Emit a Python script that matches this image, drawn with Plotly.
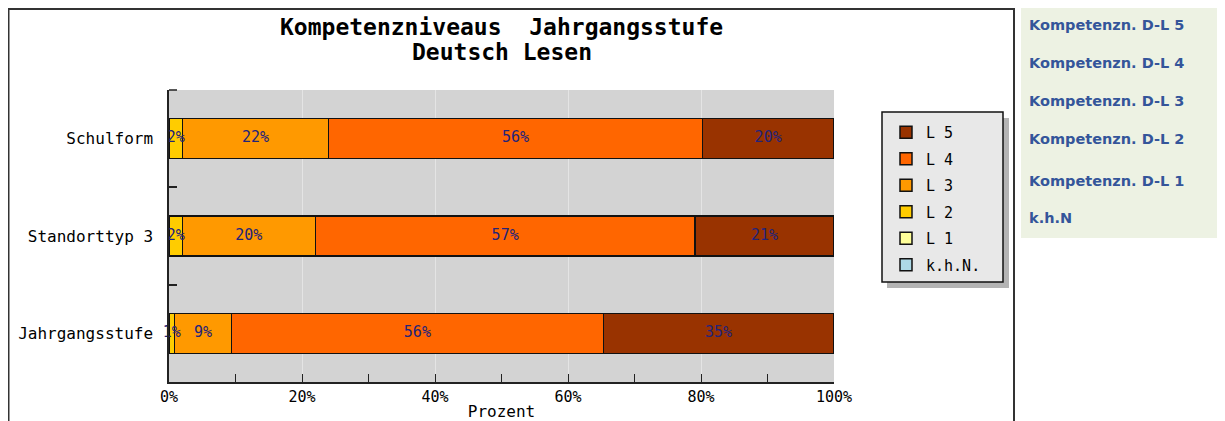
import plotly.graph_objects as go

# ---- data ----
categories = ["Jahrgangsstufe", "Standorttyp 3", "Schulform"]  # bottom -> top
series_names = ["k.h.N.", "L 1", "L 2", "L 3", "L 4", "L 5"]
khn = [0.0, 0.0, 0.0]
l1 = [0.0, 0.0, 0.0]
l2 = [0.8, 2.0, 2.0]
l3 = [8.6, 20.0, 22.0]
l4 = [55.9, 57.1, 56.2]
l5 = [34.7, 20.9, 19.8]
series_values = [khn, l1, l2, l3, l4, l5]
colors = ["#add8e6", "#ffff99", "#ffcc00", "#ff9900", "#ff6600", "#993300"]
x_ticks = [0, 20, 40, 60, 80, 100]
x_ticklabels = ["0%", "20%", "40%", "60%", "80%", "100%"]
title_lines = ["Kompetenzniveaus\u00a0\u00a0Jahrgangsstufe", "Deutsch Lesen"]
side_links = ["Kompetenzn. D-L 5", "Kompetenzn. D-L 4", "Kompetenzn. D-L 3",
              "Kompetenzn. D-L 2", "Kompetenzn. D-L 1", "k.h.N"]

# page has an 8px body margin; figure size compensates
OFF = 8
W, H = 1225 - OFF, 421 - OFF
# plot area in page pixels
PL, PR, PT, PB = 169, 834, 90, 382
L, R, T, B = PL - OFF, PR - OFF, PT - OFF, PB - OFF


def px(x):
    return (x - PL) / (PR - PL)


def py(y):
    return (PB - y) / (PB - PT)


MONO = "DejaVu Sans Mono"
fig = go.Figure()

n = len(series_names)
for i, (name, vals, col) in enumerate(zip(series_names, series_values, colors)):
    fig.add_trace(go.Bar(
        y=categories, x=vals, name=name, orientation="h",
        marker=dict(color=col, line=dict(color="#111111", width=1.5)),
        width=0.41, legendgroup=name, legendrank=(n - i) * 10,
        hoverinfo="skip",
    ))

# labels centred in segments
lx, ly, lt = [], [], []
for ci, cat in enumerate(categories):
    cum = 0.0
    for vals in series_values:
        v = vals[ci]
        if v > 0:
            lx.append(cum + v / 2)
            ly.append(cat)
            lt.append(f"{round(v):d}%")
        cum += v
fig.add_trace(go.Scatter(
    x=lx, y=ly, text=lt, mode="text", showlegend=False, hoverinfo="skip",
    cliponaxis=False,
    textfont=dict(family=MONO, size=15, color="#23237a"),
))

shapes = [
    # outer border of chart image
    dict(type="rect", xref="paper", yref="paper", x0=px(8.5), x1=px(1014),
         y0=py(460), y1=py(9), line=dict(color="#333333", width=2),
         fillcolor="rgba(0,0,0,0)", layer="below"),
    # side panel
    dict(type="rect", xref="paper", yref="paper", x0=px(1021), x1=px(1240),
         y0=py(238), y1=py(-5), line=dict(width=0), fillcolor="#edf2e3",
         layer="below"),
    # legend shadow
    dict(type="rect", xref="paper", yref="paper", x0=px(887), x1=px(1009),
         y0=py(288), y1=py(118), line=dict(width=0), fillcolor="#b4b4b4",
         layer="above"),
    # legend box
    dict(type="rect", xref="paper", yref="paper", x0=px(882), x1=px(1003),
         y0=py(282), y1=py(112), line=dict(color="#111111", width=1.5),
         fillcolor="#e8e8e8", layer="above"),
    # top boundary tick of the category axis
    dict(type="line", xref="paper", yref="paper", x0=0, x1=px(177),
         y0=1, y1=1, line=dict(color="#222222", width=1.5), layer="above"),
]

annotations = []
for t, yy in zip(title_lines, [27, 52]):
    annotations.append(dict(
        text=f"<b>{t}</b>", xref="paper", yref="paper", x=0.5, y=py(yy),
        xanchor="center", yanchor="middle", showarrow=False,
        font=dict(family=MONO, size=23, color="black"),
    ))
link_y = [25, 63, 101, 139, 181, 218]
for t, yy in zip(side_links, link_y):
    annotations.append(dict(
        text=f"<b>{t}</b>", xref="paper", yref="paper", x=px(1027), y=py(yy),
        xanchor="left", yanchor="middle", showarrow=False,
        font=dict(family="DejaVu Sans", size=14.5, color="#34559a"),
    ))

fig.update_layout(
    width=W, height=H,
    margin=dict(l=L, r=W - R, t=T, b=H - B, pad=0, autoexpand=False),
    paper_bgcolor="white", plot_bgcolor="#d3d3d3",
    barmode="stack", bargap=0.59,
    xaxis=dict(
        range=[0, 100], tickvals=x_ticks, ticktext=x_ticklabels,
        showgrid=True, gridcolor="#e4e4e4", gridwidth=1,
        showline=True, linecolor="#222222", linewidth=1.5,
        ticks="inside", ticklen=8, tickcolor="#222222", tickwidth=1,
        minor=dict(dtick=10, tick0=0, ticks="inside", ticklen=8,
                   tickcolor="#222222", showgrid=False),
        tickfont=dict(family=MONO, size=15, color="black"),
        title=dict(text="Prozent", font=dict(family=MONO, size=16, color="black"),
                   standoff=4),
        zeroline=False, fixedrange=True, automargin=False,
    ),
    yaxis=dict(
        type="category", categoryorder="array", categoryarray=categories,
        showline=True, linecolor="#222222", linewidth=1.5,
        ticks="inside", tickson="boundaries", ticklen=8, tickcolor="#222222",
        tickwidth=1.5, showgrid=False, ticklabelstandoff=11,
        tickfont=dict(family=MONO, size=16, color="black"),
        fixedrange=True, automargin=False,
    ),
    legend=dict(
        x=px(886), y=py(116), xanchor="left", yanchor="top",
        bgcolor="rgba(0,0,0,0)", borderwidth=0,
        font=dict(family=MONO, size=15, color="black"),
        traceorder="grouped", tracegroupgap=4, itemwidth=30,
    ),
    shapes=shapes, annotations=annotations, showlegend=True,
)

fig.write_html("out.html")
